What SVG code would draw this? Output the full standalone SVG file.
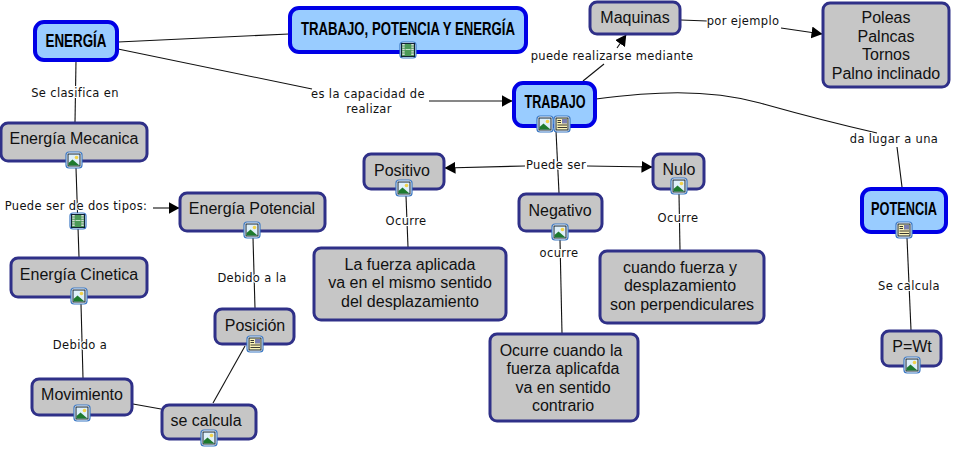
<svg xmlns="http://www.w3.org/2000/svg" width="953" height="450" viewBox="0 0 953 450">
<style>
text{text-anchor:middle}
.b{fill:#c6c6c6;stroke:#2f3088;stroke-width:3}
.h{fill:#99ccff;stroke:#0000e6;stroke-width:4}
.n{font:16px "Liberation Sans",Arial,sans-serif;fill:#111}
.t{font:bold 19px "Liberation Sans",Arial,sans-serif;fill:#000}
.l{font:11.5px "DejaVu Sans",Verdana,sans-serif;fill:#111;stroke:#fff;stroke-width:2px;paint-order:stroke;letter-spacing:.35px}
.c{fill:none;stroke:#111;stroke-width:1.1}
.a{marker-end:url(#ah)}
</style>
<defs>
<marker id="ah" markerUnits="userSpaceOnUse" markerWidth="11" markerHeight="12" refX="10.5" refY="6" orient="auto"><path d="M0,0L11,6L0,12z" fill="#000"/></marker>
<g id="ib"><rect x="-8" y="-8" width="16" height="16" rx="3" fill="#fff" stroke="#3b78c4" stroke-width="1.2"/></g>
<g id="img"><use href="#ib"/><rect x="-6" y="-6" width="12" height="12" fill="#dff0fa" stroke="#123" stroke-width="1"/><circle cx="2.5" cy="-2.5" r="1.8" fill="#f2d24a"/><path d="M-5.5,5.5V3L-1.5,-.5L5.5,5.5z" fill="#1e7a2e"/></g>
<g id="doc"><use href="#ib"/><rect x="-6" y="-6" width="12" height="12" fill="#fbf3b5" stroke="#123" stroke-width="1"/><rect x="0" y="-5" width="5" height="4.5" fill="#7a7fb0"/><path d="M-4.5,-3.5H-1M-4.5,-1.5H-1M-4.5,1H5M-4.5,3.5H5" stroke="#222" stroke-width=".9"/></g>
<g id="mov"><use href="#ib"/><rect x="-6.5" y="-6.5" width="13" height="13" fill="#4c9a58" stroke="#123" stroke-width="1"/><path d="M-4.5,-6V6M4.5,-6V6" stroke="#ddd" stroke-width="2.4" stroke-dasharray="1.4 1"/><path d="M-2.5,-.5H2.5" stroke="#bfe0c4"/></g>
</defs>
<rect width="953" height="450" fill="#fff"/>
<g id="connectors">
<path class="c" d="M118,42L289,34"/>
<path class="c" d="M118,49L312,89"/>
<path class="c a" d="M429,101H512"/>
<path class="c" d="M76,61L75,122"/>
<path class="c" d="M76,168L79,257"/>
<path class="c a" d="M153,208H179"/>
<path class="c" d="M81,304L83,378"/>
<path class="c" d="M253,238L255,308"/>
<path class="c" d="M133,404L161,409"/>
<path class="c" d="M245,346L213,403"/>
<path class="c" d="M583,81L604,64"/>
<path class="c a" d="M617,48L626,35"/>
<path class="c" d="M681,20L707,21"/>
<path class="c a" d="M781,28L822,34"/>
<path class="c" d="M596,99C650,92 705,88 760,103C785,110 820,120 877,133"/>
<path class="c" d="M897,147L902,187"/>
<path class="c" d="M907,238L911,330"/>
<path class="c" d="M556,131L559,193"/>
<path class="c a" d="M525,166L445,168"/>
<path class="c a" d="M587,166L652,167"/>
<path class="c" d="M406,196L408,247"/>
<path class="c" d="M560,240L562,333"/>
<path class="c" d="M679,194L680,250"/>
</g>
<g id="link-labels">
<text class="l" x="75" y="97">Se clasifica en</text>
<text class="l" x="76" y="210">Puede ser de dos tipos:</text>
<text class="l" x="80" y="349">Debido a</text>
<text class="l" x="252" y="282">Debido a la</text>
<text class="l" x="368" y="98">es la capacidad de</text>
<text class="l" x="369" y="113">realizar</text>
<text class="l" x="612" y="60">puede realizarse mediante</text>
<text class="l" x="743" y="25">por ejemplo</text>
<text class="l" x="894" y="143">da lugar a una</text>
<text class="l" x="556" y="169">Puede ser</text>
<text class="l" x="406" y="225">Ocurre</text>
<text class="l" x="559" y="257">ocurre</text>
<text class="l" x="678" y="222">Ocurre</text>
<text class="l" x="909" y="290">Se calcula</text>
</g>
<g id="energia"><rect class="h" x="35" y="22" width="82" height="38" rx="9"/><text class="t" x="76" y="47" textLength="61" lengthAdjust="spacingAndGlyphs">ENERGÍA</text></g>
<g id="titulo"><rect class="h" x="290" y="8" width="236" height="44" rx="9"/><text class="t" x="408" y="35" textLength="214" lengthAdjust="spacingAndGlyphs">TRABAJO, POTENCIA Y ENERGÍA</text><use href="#mov" x="408" y="50"/></g>
<g id="trabajo"><rect class="h" x="514" y="83" width="81" height="43" rx="9"/><text class="t" x="555" y="108" textLength="61" lengthAdjust="spacingAndGlyphs">TRABAJO</text><use href="#img" x="545" y="124"/><use href="#doc" x="562" y="124"/></g>
<g id="potencia"><rect class="h" x="862" y="189" width="84" height="43" rx="9"/><text class="t" x="904" y="215" textLength="66" lengthAdjust="spacingAndGlyphs">POTENCIA</text><use href="#doc" x="904" y="230"/></g>
<g id="maquinas"><rect class="b" x="590" y="2" width="90" height="32" rx="7"/><text class="n" x="635" y="23">Maquinas</text></g>
<g id="poleas"><rect class="b" x="823" y="3" width="126" height="84" rx="7"/><text class="n" x="886" y="23">Poleas</text><text class="n" x="886" y="42">Palncas</text><text class="n" x="886" y="60">Tornos</text><text class="n" x="886" y="79">Palno inclinado</text></g>
<g id="mecanica"><rect class="b" x="1" y="123" width="146" height="38" rx="7"/><text class="n" x="74" y="144">Energía Mecanica</text><use href="#img" x="74" y="160"/></g>
<g id="potencial"><rect class="b" x="180" y="193" width="145" height="38" rx="7"/><text class="n" x="252" y="214">Energía Potencial</text><use href="#img" x="252" y="230"/></g>
<g id="tipos-icon"><use href="#mov" x="78" y="221"/></g>
<g id="cinetica"><rect class="b" x="11" y="258" width="136" height="39" rx="7"/><text class="n" x="79" y="280">Energía Cinetica</text><use href="#img" x="79" y="296"/></g>
<g id="movimiento"><rect class="b" x="32" y="379" width="100" height="36" rx="7"/><text class="n" x="82" y="400">Movimiento</text><use href="#img" x="82" y="413"/></g>
<g id="secalcula"><rect class="b" x="162" y="405" width="94" height="34" rx="7"/><text class="n" x="206" y="426">se calcula</text><use href="#img" x="209" y="438"/></g>
<g id="posicion"><rect class="b" x="215" y="309" width="79" height="35" rx="7"/><text class="n" x="255" y="331">Posición</text><use href="#doc" x="255" y="344"/></g>
<g id="positivo"><rect class="b" x="364" y="154" width="80" height="35" rx="7"/><text class="n" x="402" y="176">Positivo</text><use href="#img" x="404" y="188"/></g>
<g id="negativo"><rect class="b" x="519" y="194" width="83" height="37" rx="7"/><text class="n" x="560" y="216">Negativo</text><use href="#img" x="560" y="232"/></g>
<g id="nulo"><rect class="b" x="653" y="154" width="51" height="35" rx="7"/><text class="n" x="679" y="175">Nulo</text><use href="#img" x="679" y="186"/></g>
<g id="fuerza1"><rect class="b" x="314" y="248" width="192" height="72" rx="7"/><text class="n" x="410" y="270">La fuerza aplicada</text><text class="n" x="410" y="288">va en el mismo sentido</text><text class="n" x="410" y="307">del desplazamiento</text></g>
<g id="fuerza2"><rect class="b" x="490" y="334" width="148" height="87" rx="7"/><text class="n" x="561" y="356">Ocurre cuando la</text><text class="n" x="563" y="374">fuerza aplicafda</text><text class="n" x="563" y="393">va en sentido</text><text class="n" x="563" y="411">contrario</text></g>
<g id="fuerza3"><rect class="b" x="600" y="251" width="164" height="72" rx="7"/><text class="n" x="680" y="273">cuando fuerza y</text><text class="n" x="680" y="291">desplazamiento</text><text class="n" x="682" y="310">son perpendiculares</text></g>
<g id="pwt"><rect class="b" x="882" y="331" width="59" height="35" rx="7"/><text class="n" x="912" y="352">P=Wt</text><use href="#img" x="912" y="365"/></g>
</svg>
